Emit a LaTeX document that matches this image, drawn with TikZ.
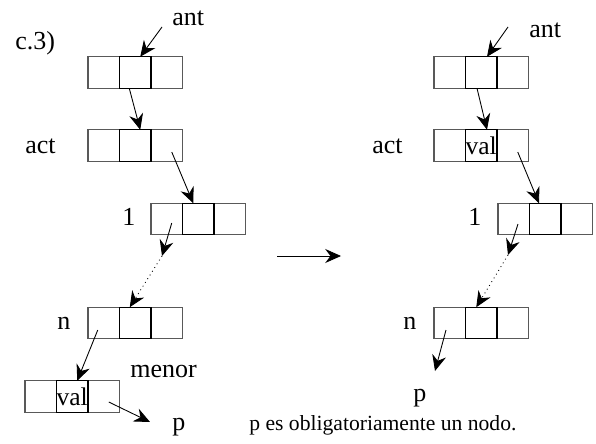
\documentclass[tikz,border=0pt]{standalone}
\usepackage{fontspec}
\setmainfont{Liberation Serif}
\usepackage{tikz}
\usetikzlibrary{arrows.meta}
\usetikzlibrary{positioning}
\usepackage{xcolor}

\begin{document}
\begin{tikzpicture}[
        celda/.style={draw=black, line width=0.6pt, minimum width=0.63cm, minimum height=0.63cm, inner sep=0pt, outer sep=0pt, font=\fontsize{14.5}{16}\selectfont},
        gris/.style={draw=black!65},
        etiq/.style={inner sep=0pt, anchor=base west, font=\fontsize{14.8}{16}\selectfont},
        flecha/.style={line width=0.5pt, -{Stealth[length=9pt,width=8pt,inset=3pt]}}]
        \useasboundingbox (0,0) rectangle (11.92,-8.86);

        \node[celda, gris] (aI) at (2.075,-1.45) {};
        \node[celda, gris, right=0.63cm of aI] (aD) {};
        \node[celda, right=0pt of aI] (aM) {};
        \node[celda, gris] (bI) at (2.075,-2.91) {};
        \node[celda, gris, right=0.63cm of bI] (bD) {};
        \node[celda, right=0pt of bI] (bM) {};
        \node[celda, gris] (cI) at (3.335,-4.38) {};
        \node[celda, gris, right=0.63cm of cI] (cD) {};
        \node[celda, right=0pt of cI] (cM) {};
        \node[celda, gris] (dI) at (2.075,-6.46) {};
        \node[celda, gris, right=0.63cm of dI] (dD) {};
        \node[celda, right=0pt of dI] (dM) {};
        \node[celda, gris] (eI) at (0.815,-7.93) {};
        \node[celda, gris, right=0.63cm of eI] (eD) {};
        \node[celda, right=0pt of eI] (eM) {val};

        \node[celda, gris] (fI) at (8.995,-1.45) {};
        \node[celda, gris, right=0.63cm of fI] (fD) {};
        \node[celda, right=0pt of fI] (fM) {};
        \node[celda, gris] (gI) at (8.995,-2.91) {};
        \node[celda, gris, right=0.63cm of gI] (gD) {};
        \node[celda, right=0pt of gI] (gM) {val};
        \node[celda, gris] (hI) at (10.275,-4.38) {};
        \node[celda, gris, right=0.63cm of hI] (hD) {};
        \node[celda, right=0pt of hI] (hM) {};
        \node[celda, gris] (iI) at (8.995,-6.46) {};
        \node[celda, gris, right=0.63cm of iI] (iD) {};
        \node[celda, right=0pt of iI] (iM) {};

        \node[etiq] (caso) at (0.30,-0.98) {c.3)};
        \node[etiq] (antIzq) at (3.44,-0.52) {ant};
        \node[etiq] (actIzq) at (0.50,-3.06) {act};
        \node[etiq] (unoIzq) at (2.44,-4.50) {1};
        \node[etiq] (nIzq) at (1.14,-6.58) {n};
        \node[etiq] (menor) at (2.60,-7.54) {menor};
        \node[etiq] (pIzq) at (3.44,-8.60) {p};
        \node[etiq, font=\fontsize{12.3}{14}\selectfont] (nota) at (4.98,-8.60) {p es obligatoriamente un nodo.};
        \node[etiq] (antDer) at (10.58,-0.74) {ant};
        \node[etiq] (actDer) at (7.44,-3.06) {act};
        \node[etiq] (unoDer) at (9.36,-4.50) {1};
        \node[etiq] (nDer) at (8.06,-6.58) {n};
        \node[etiq] (pDer) at (8.26,-8.02) {p};

        \coordinate (iniAntIzq) at (3.24,-0.54);
        \coordinate (medIzq) at (3.24,-5.12);
        \coordinate (iniPaso) at (5.54,-5.12);
        \coordinate (finPaso) at (6.82,-5.12);
        \coordinate (iniAntDer) at (10.16,-0.54);
        \coordinate (medDer) at (10.16,-5.10);
        \coordinate (finN) at (8.70,-7.42);

        \draw[flecha] (iniAntIzq) -- ([xshift=0.1cm]aM.north);
        \draw[flecha] ([xshift=-0.12cm]aM.south) -- ([xshift=0.1cm]bM.north);
        \draw[flecha] ([shift={(0.1,-0.13)}]bD.center) -- ([xshift=-0.1cm]cM.north);
        \draw[flecha] ([shift={(0.1,-0.08)}]cI.center) -- (medIzq);
        \draw[flecha, dotted] (medIzq) -- ([xshift=-0.11cm]dM.north);
        \draw[flecha] ([shift={(-0.12,-0.14)}]dI.center) -- ([xshift=0.1cm]eM.north);
        \draw[flecha] ([shift={(0.1,-0.11)}]eD.center) -- ([shift={(-0.44,0.16)}]pIzq.base west);

        \draw[flecha] (iniPaso) -- (finPaso);

        \draw[flecha] (iniAntDer) -- ([xshift=0.115cm]fM.north);
        \draw[flecha] ([xshift=-0.085cm]fM.south) -- ([xshift=0.115cm]gM.north);
        \draw[flecha] ([shift={(0.1,-0.13)}]gD.center) -- ([xshift=-0.125cm]hM.north);
        \draw[flecha] ([shift={(0.085,-0.1)}]hI.center) -- (medDer);
        \draw[flecha, dotted] (medDer) -- ([xshift=-0.1cm]iM.north);
        \draw[flecha] ([shift={(-0.075,-0.14)}]iI.center) -- (finN);

    \end{tikzpicture}
\end{document}
